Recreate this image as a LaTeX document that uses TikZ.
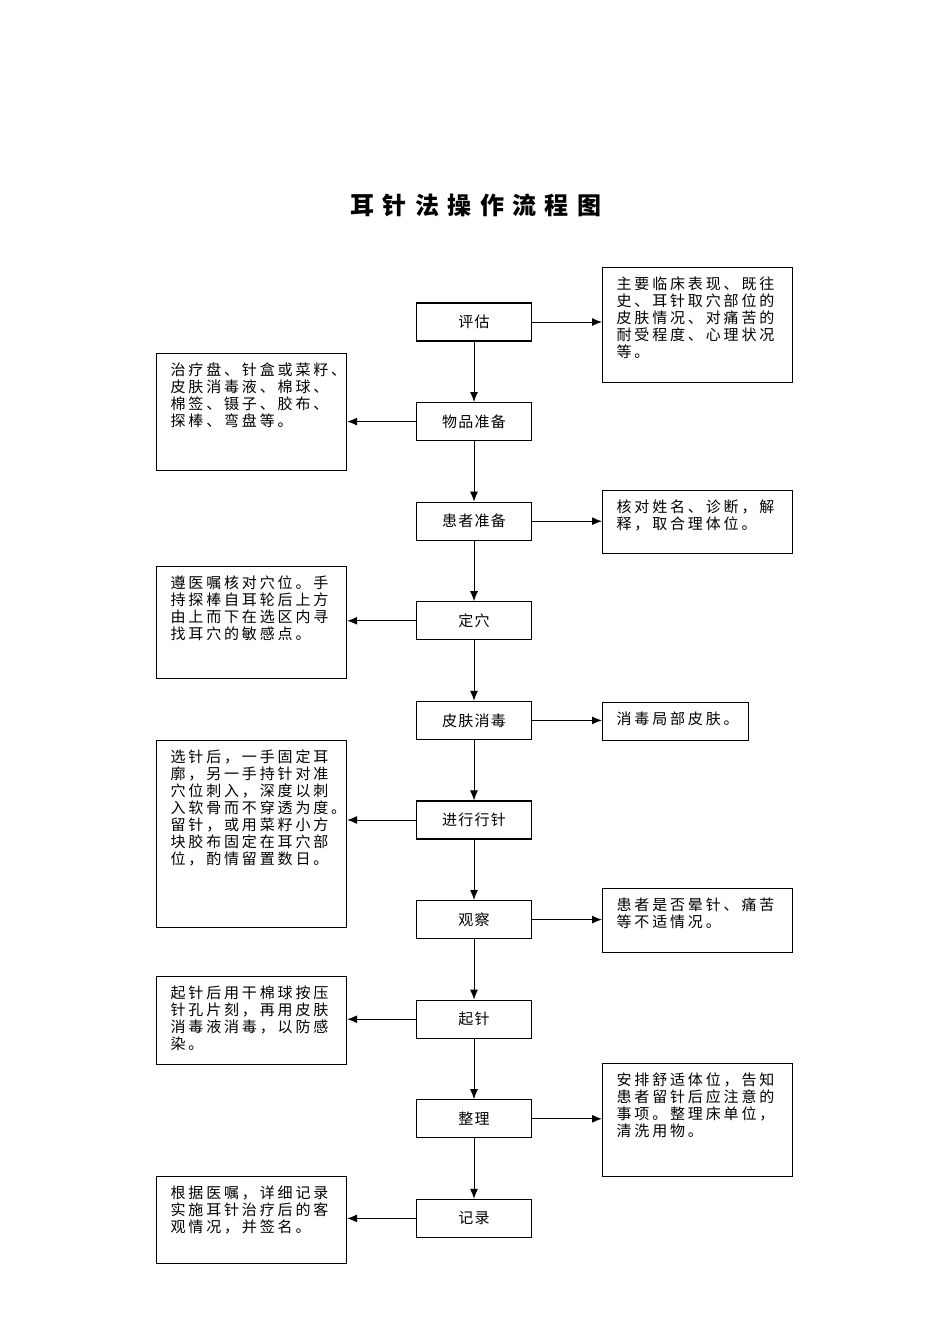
\documentclass[tikz,border=0pt]{standalone}
\usepackage{fontspec}
\setmainfont{Noto Sans CJK SC}
\newfontfamily\notefont[LetterSpace=19]{Noto Sans CJK SC}
\newfontfamily\stepfont[LetterSpace=8]{Noto Sans CJK SC}
\newfontfamily\titlefont[LetterSpace=35]{Noto Sans CJK SC}
\usetikzlibrary{positioning,arrows.meta}

\tikzset{
  stepbox/.style={draw, line width=1.2pt, minimum width=115pt, minimum height=38pt, inner sep=0pt,
    font=\stepfont\fontsize{15}{17}\selectfont},
  note/.style={draw, line width=1.2pt, anchor=north west, inner xsep=14pt, inner ysep=9pt,
    font=\notefont\fontsize{15}{17}\selectfont},
  link/.style={line width=1pt, -{Latex[length=10pt,width=8pt]}}
}
\newcommand{\notetext}[3]{\parbox[t][#2][t]{#1}{#3}}

\begin{document}
\begin{tikzpicture}[x=1pt, y=-1pt, node distance=60.4pt]
    \useasboundingbox (0,0) rectangle (950,1344);

    % Title
    \node (title) at (476,205) {\titlefont\bfseries\fontsize{24}{28}\selectfont 耳针法操作流程图};

    % Main steps
    \node[stepbox] (assess) at (474,322) {评估};
    \node[stepbox, below=of assess] (supply) {物品准备};
    \node[stepbox, below=of supply] (patient) {患者准备};
    \node[stepbox, below=of patient] (locate) {定穴};
    \node[stepbox, below=of locate] (disinfect) {皮肤消毒};
    \node[stepbox, below=of disinfect] (needle) {进行行针};
    \node[stepbox, below=of needle] (observe) {观察};
    \node[stepbox, below=of observe] (withdraw) {起针};
    \node[stepbox, below=of withdraw] (tidy) {整理};
    \node[stepbox, below=of tidy] (record) {记录};

    \foreach \a/\b in {assess/supply, supply/patient, patient/locate, locate/disinfect,
      disinfect/needle, needle/observe, observe/withdraw, withdraw/tidy, tidy/record}
      \draw[link] (\a) -- (\b);

    % Notes on the right
    \node[note] (assessnote) at (602,267) {\notetext{162pt}{97pt}{主要临床表现、既往\\史、耳针取穴部位的\\皮肤情况、对痛苦的\\耐受程度、心理状况\\等。}};
    \node[note] (patientnote) at (602,490) {\notetext{162pt}{45pt}{核对姓名、诊断，解\\释，取合理体位。}};
    \node[note] (disinfectnote) at (602,702) {\notetext{118pt}{20pt}{消毒局部皮肤。}};
    \node[note] (observenote) at (602,888) {\notetext{162pt}{46pt}{患者是否晕针、痛苦\\等不适情况。}};
    \node[note] (tidynote) at (602,1063) {\notetext{162pt}{95pt}{安排舒适体位，告知\\患者留针后应注意的\\事项。整理床单位，\\清洗用物。}};

    % Notes on the left
    \node[note] (supplynote) at (156,353) {\notetext{162pt}{99pt}{治疗盘、针盒或菜籽、\\皮肤消毒液、棉球、\\棉签、镊子、胶布、\\探棒、弯盘等。}};
    \node[note] (locatenote) at (156,566) {\notetext{162pt}{94pt}{遵医嘱核对穴位。手\\持探棒自耳轮后上方\\由上而下在选区内寻\\找耳穴的敏感点。}};
    \node[note] (needlenote) at (156,740) {\notetext{162pt}{169pt}{选针后，一手固定耳\\廓，另一手持针对准\\穴位刺入，深度以刺\\入软骨而不穿透为度。\\留针，或用菜籽小方\\块胶布固定在耳穴部\\位，酌情留置数日。}};
    \node[note] (withdrawnote) at (156,976) {\notetext{162pt}{70pt}{起针后用干棉球按压\\针孔片刻，再用皮肤\\消毒液消毒，以防感\\染。}};
    \node[note] (recordnote) at (156,1176) {\notetext{162pt}{69pt}{根据医嘱，详细记录\\实施耳针治疗后的客\\观情况，并签名。}};

    % Side arrows
    \foreach \s in {assess, patient, disinfect, observe, tidy}
      \draw[link] (\s.east) -- (\s.east -| \s note.west);
    \foreach \s in {supply, locate, needle, withdraw, record}
      \draw[link] (\s.west) -- (\s.west -| \s note.east);

\end{tikzpicture}
\end{document}
